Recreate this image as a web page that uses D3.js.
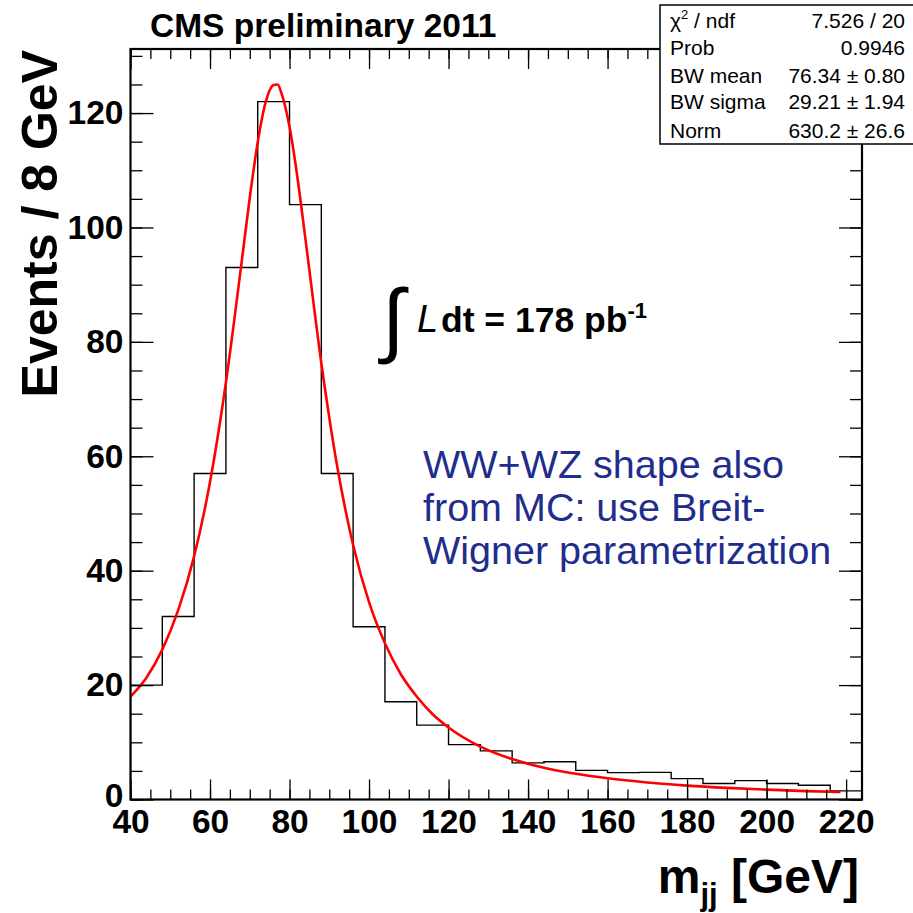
<!DOCTYPE html>
<html>
<head>
<meta charset="utf-8">
<script src="https://cdn.jsdelivr.net/npm/d3@7"></script>
<style>
  html, body { margin: 0; padding: 0; background: #fff; }
  svg { display: block; }
  text { font-family: "Liberation Sans", Arial, Helvetica, sans-serif; }
</style>
</head>
<body>
<svg id="chart" width="913" height="913"></svg>
<script>
// ---------------- data ----------------
const binEdgesLow = [40, 48, 56, 64, 72, 80, 88, 96, 104, 112, 120, 128, 136, 144, 152, 160, 168, 176, 184, 192, 200, 208, 216];
const binWidth = 8;
const binCounts = [20, 32, 57, 93, 122, 104, 57, 30.2, 17.1, 13, 9.6, 8.5, 6.4, 6.6, 5.1, 4.7, 4.75, 3.65, 2.8, 3.3, 2.8, 2.5, 1.5];

// Breit-Wigner fit curve
const fitX = [40, 44, 48, 52, 56, 60, 64, 68, 70, 72, 74, 76, 77, 78, 80, 82, 84, 88, 92, 96, 100, 104, 108, 112, 116, 120, 128, 136, 144, 152, 160, 170, 180, 190, 200, 210, 218.6];
const fitY = [18.0, 21.3, 26.2, 33.1, 42.5, 55.5, 72.9, 94.2, 105.2, 114.9, 121.9, 124.9, 125.0, 123.4, 117.6, 108.7, 98.0, 76.3, 58.2, 44.5, 34.5, 27.3, 21.9, 18.0, 14.9, 12.6, 9.25, 7.07, 5.56, 4.49, 3.70, 2.97, 2.43, 2.03, 1.72, 1.47, 1.30];

const xTicks = [40, 60, 80, 100, 120, 140, 160, 180, 200, 220];
const yTicks = [0, 20, 40, 60, 80, 100, 120];

const statsLabels = ["χ2 / ndf", "Prob", "BW mean", "BW sigma", "Norm"];
const statsValues = ["7.526 / 20", "0.9946", "76.34 ± 0.80", "29.21 ± 1.94", "630.2 ± 26.6"];

const noteLines = ["WW+WZ shape also", "from MC: use Breit-", "Wigner parametrization"];

// ---------------- layout ----------------
const svg = d3.select("#chart");
const pL = 130.5, pR = 862, pT = 49, pB = 799.5;

const x = d3.scaleLinear().domain([40, 224]).range([pL, pR]);
const y = d3.scaleLinear().domain([0, 131.2]).range([pB, pT]);

const clipId = "plotclip";
svg.append("clipPath").attr("id", clipId)
  .append("rect").attr("x", pL).attr("y", pT).attr("width", pR - pL).attr("height", pB - pT);

// histogram as step line
const histPts = [[binEdgesLow[0], 0]];
binEdgesLow.forEach((lo, i) => {
  histPts.push([lo, binCounts[i]]);
  histPts.push([lo + binWidth, binCounts[i]]);
});
histPts.push([binEdgesLow[binEdgesLow.length - 1] + binWidth, 0]);

svg.append("path")
  .attr("clip-path", `url(#${clipId})`)
  .attr("d", d3.line().x(d => x(d[0])).y(d => y(d[1]))(histPts))
  .attr("fill", "none").attr("stroke", "#000").attr("stroke-width", 1.4);

// fit curve
svg.append("path")
  .attr("d", d3.line().x((d, i) => x(fitX[i])).y((d, i) => y(fitY[i])).curve(d3.curveMonotoneX)(fitX))
  .attr("fill", "none").attr("stroke", "#ff0000").attr("stroke-width", 2.6);

// ---------------- axes ----------------
const xMinor = d3.range(40, 225, 5);
const yMinor = d3.range(0, 131, 5);

// bottom axis
const axB = svg.append("g").attr("transform", `translate(0,${pB})`)
  .call(d3.axisBottom(x).tickValues(xMinor).tickSize(-10).tickFormat(""));
axB.call(g => g.select(".domain").remove());
const axBM = svg.append("g").attr("transform", `translate(0,${pB})`)
  .call(d3.axisBottom(x).tickValues(xTicks).tickSize(-20).tickPadding(12).tickFormat(d3.format("d")));
axBM.call(g => g.select(".domain").remove());
axBM.selectAll("text").attr("font-size", 33.5).attr("font-weight", "bold").attr("fill", "#000")
  .attr("font-family", "'Liberation Sans', Arial, sans-serif").attr("dy", "0.71em").attr("y", 10);

// top axis
const axT = svg.append("g").attr("transform", `translate(0,${pT})`)
  .call(d3.axisTop(x).tickValues(xMinor).tickSize(-10).tickFormat(""));
axT.call(g => g.select(".domain").remove());
const axTM = svg.append("g").attr("transform", `translate(0,${pT})`)
  .call(d3.axisTop(x).tickValues(xTicks).tickSize(-20).tickFormat(""));
axTM.call(g => g.select(".domain").remove());

// left axis
const axL = svg.append("g").attr("transform", `translate(${pL},0)`)
  .call(d3.axisLeft(y).tickValues(yMinor).tickSize(-12).tickFormat(""));
axL.call(g => g.select(".domain").remove());
const axLM = svg.append("g").attr("transform", `translate(${pL},0)`)
  .call(d3.axisLeft(y).tickValues(yTicks).tickSize(-23).tickPadding(8).tickFormat(d3.format("d")));
axLM.call(g => g.select(".domain").remove());
axLM.selectAll("text").attr("font-size", 33.5).attr("font-weight", "bold").attr("fill", "#000")
  .attr("font-family", "'Liberation Sans', Arial, sans-serif").attr("x", -7)
  .attr("dy", d => d === 0 ? "0.22em" : "0.32em");

// right axis
const axR = svg.append("g").attr("transform", `translate(${pR},0)`)
  .call(d3.axisRight(y).tickValues(yMinor).tickSize(-12).tickFormat(""));
axR.call(g => g.select(".domain").remove());
const axRM = svg.append("g").attr("transform", `translate(${pR},0)`)
  .call(d3.axisRight(y).tickValues(yTicks).tickSize(-23).tickFormat(""));
axRM.call(g => g.select(".domain").remove());

svg.selectAll(".tick line").attr("stroke", "#000").attr("stroke-width", 1.3);

// frame
svg.append("rect").attr("x", pL).attr("y", pT).attr("width", pR - pL).attr("height", pB - pT)
  .attr("fill", "none").attr("stroke", "#000").attr("stroke-width", 2.2);

// ---------------- titles ----------------
svg.append("text").attr("x", 150).attr("y", 37)
  .attr("font-size", 33.5).attr("font-weight", "bold").text("CMS preliminary 2011");

svg.append("text")
  .attr("transform", `translate(57,50) rotate(-90)`)
  .attr("text-anchor", "end").attr("font-size", 50).attr("font-weight", "bold")
  .text("Events / 8 GeV");

const xt = svg.append("text").attr("x", 859).attr("y", 893)
  .attr("text-anchor", "end").attr("font-size", 48).attr("font-weight", "bold");
xt.append("tspan").text("m");
xt.append("tspan").attr("font-size", 31).attr("dy", 12).text("jj");
xt.append("tspan").attr("dy", -12).text(" [GeV]");

// luminosity
svg.append("text").attr("x", 382).attr("y", 347)
  .attr("font-family", "'DejaVu Sans', sans-serif")
  .attr("font-size", 82).text("∫");
svg.append("text").attr("x", 417).attr("y", 332)
  .attr("font-family", "'Liberation Serif', 'Times New Roman', serif").attr("font-style", "italic")
  .attr("font-size", 38).text("L");
const lum = svg.append("text").attr("x", 441).attr("y", 332)
  .attr("font-size", 35.5).attr("font-weight", "bold");
lum.append("tspan").text("dt = 178 pb");
lum.append("tspan").attr("font-size", 22).attr("dy", -14).text("-1");

// note
svg.append("g").selectAll("text").data(noteLines).join("text")
  .attr("x", 423).attr("y", (d, i) => 478 + i * 43)
  .attr("font-size", 39.5).attr("fill", "#1f2d8c").text(d => d);

// ---------------- stats box ----------------
svg.append("rect").attr("x", 660).attr("y", 5).attr("width", 260).attr("height", 139)
  .attr("fill", "#fff").attr("stroke", "#000").attr("stroke-width", 1.5);
const rowsY = [27.7, 55, 83, 109, 137.5];
const sl = svg.append("g");
statsLabels.forEach((lab, i) => {
  const t = sl.append("text").attr("x", 670).attr("y", rowsY[i]).attr("font-size", 21);
  if (i === 0) {
    t.append("tspan").text("χ");
    t.append("tspan").attr("font-size", 13).attr("dy", -9).text("2");
    t.append("tspan").attr("dy", 9).text(" / ndf");
  } else t.text(lab);
  sl.append("text").attr("x", 905).attr("y", rowsY[i]).attr("font-size", 21)
    .attr("text-anchor", "end").text(statsValues[i]);
});
</script>
</body>
</html>
